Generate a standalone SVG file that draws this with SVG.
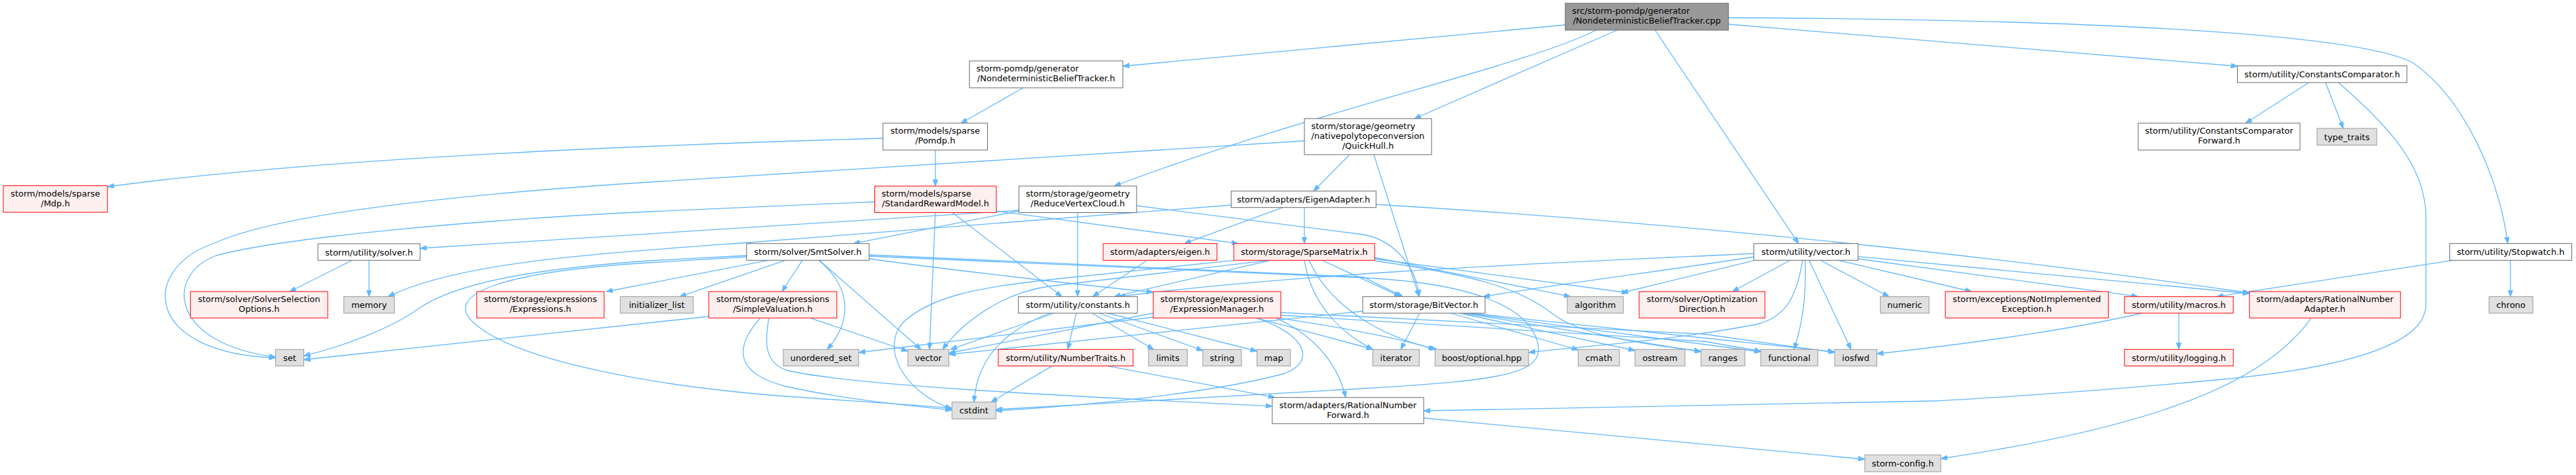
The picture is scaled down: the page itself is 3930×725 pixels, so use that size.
<svg xmlns="http://www.w3.org/2000/svg" width="3930" height="725" viewBox="0 0 3930 725">
<style>
.w{fill:#fff;stroke:#666;stroke-width:1}
.g{fill:#e0e0e0;stroke:#999;stroke-width:1}
.r{fill:#fff0f0;stroke:#f00;stroke-width:1}
.t{fill:#999;stroke:#666;stroke-width:1}
text{font-family:"DejaVu Sans","Liberation Sans",sans-serif;font-size:13px;fill:#000}
.m{text-anchor:middle}
#edges path{fill:none;stroke:#63b8ff;stroke-width:1.3;marker-end:url(#a)}
</style>
<defs>
<marker id="a" viewBox="0 0 10 7.5" refX="10" refY="3.75" markerWidth="10" markerHeight="7.5" markerUnits="userSpaceOnUse" orient="auto"><path d="M0,0L10,3.75L0,7.5z" fill="#63b8ff" stroke="#63b8ff" stroke-width="1"/></marker>
</defs>
<rect width="3930" height="725" fill="#fff"/>
<g id="edges">
<path d="M2388,38L1713,101"/>
<path d="M2435,46C2330,100 2000,170 1700,284"/>
<path d="M2467,46L2158,181"/>
<path d="M2525,46L2744,371.7"/>
<path d="M2637,37L3413.5,101"/>
<path d="M2637,27C3250,30 3600,55 3680,95C3760,150 3812,270 3826,371.7"/>
<path d="M1561,134L1466,188"/>
<path d="M1347,211C1000,221 500,240 164,285"/>
<path d="M1427,229L1427,284"/>
<path d="M2059,236L2004,291.7"/>
<path d="M2096,236L2165,452.7"/>
<path d="M1990,215L990,278C650,300 420,330 330,370C210,410 220,540 420.5,546"/>
<path d="M1334.5,308L990,323C700,337 420,365 330,390C250,420 260,525 420.5,545"/>
<path d="M1520,322L1889,371.7"/>
<path d="M1427,324.5L1418,533.3"/>
<path d="M1453,324.5L1620,452.7"/>
<path d="M1554.5,322L1302,371.7"/>
<path d="M1554.5,321L641,379"/>
<path d="M1644,324.5L1644,452.7"/>
<path d="M1734,314L2080,358C2120,365 2160,400 2165,452.7"/>
<path d="M1957,316.7L1807,371.7"/>
<path d="M1990,316.7L1990,371.7"/>
<path d="M1878.3,313L1144,370C900,388 700,400 592,452.7"/>
<path d="M2099.3,312C2400,330 2900,370 3431.8,447"/>
<path d="M1750,397.3L1667,452.7"/>
<path d="M1938,397.3L1700,452.7"/>
<path d="M1936,397.3L1600,437C1530,447 1470,490 1438,533.3"/>
<path d="M1882.3,397.3L1600,427C1480,440 1420,455 1380,490C1340,530 1380,600 1452.3,624"/>
<path d="M2017,397.3L2137,452.7"/>
<path d="M1990,397.3C2000,460 2040,505 2094.3,533.3"/>
<path d="M1997,397.3C2030,470 2110,515 2192,533.3"/>
<path d="M2097.3,393L2396,452.7"/>
<path d="M2097.3,395L2484,447"/>
<path d="M2097.3,398C2250,420 2320,440 2370,480C2410,510 2500,525 2595,536"/>
<path d="M1139,390L990,398C820,410 700,430 640,470C600,500 520,530 463.4,543"/>
<path d="M1139,392L990,401C760,415 680,450 720,490C780,550 1000,590 1200,605C1300,612 1400,618 1452.3,623"/>
<path d="M1172,397.3L925,445"/>
<path d="M1198,397.3L1037,452.7"/>
<path d="M1224,397.3L1193,445"/>
<path d="M1249,397.3C1300,440 1300,490 1262,533.3"/>
<path d="M1250,397.3L1405,533.3"/>
<path d="M1326,389L2080,423L2140,452.7"/>
<path d="M1326,395C1450,412 1650,435 1759.3,446"/>
<path d="M1326,391L2080,424C2250,432 2330,470 2345,520C2360,570 2300,580 2080,593L1519.3,625"/>
<path d="M1081.3,483L463.4,549"/>
<path d="M1236,485.3L1385,536"/>
<path d="M1160,485.3C1120,530 1120,570 1200,590C1300,612 1400,620 1452.3,626"/>
<path d="M1173,485.3C1165,530 1170,555 1200,565C1300,590 1700,608 1941,620"/>
<path d="M1608,478L1450,533.3"/>
<path d="M1602,478C1530,505 1490,550 1486,613.7"/>
<path d="M1642,478L1629,533.3"/>
<path d="M1666,478L1760,533.3"/>
<path d="M1677,478L1835,535"/>
<path d="M1690,478L1917.7,536"/>
<path d="M1605,558.6L1512,613.7"/>
<path d="M1690,558.6L1945,606.7"/>
<path d="M1760,484L1310,538"/>
<path d="M1759.3,478L1447.7,539"/>
<path d="M2079,475L1447.7,541"/>
<path d="M1917,485.3C1990,510 2010,550 1960,570C1850,600 1650,620 1519.3,627"/>
<path d="M1947,485.3C2000,510 2040,550 2053,606.7"/>
<path d="M1917,485.3L2094.3,533"/>
<path d="M1954,477L2600,510L2799,538"/>
<path d="M1954,481L2600,521L2686.3,536"/>
<path d="M1950,485.3C2050,500 2130,515 2189.3,533.3"/>
<path d="M2166,478L2137,533.3"/>
<path d="M2213,478L2407.7,534"/>
<path d="M2227,478L2494.3,535"/>
<path d="M2233,478L2595,537"/>
<path d="M2238,478L2686.3,537"/>
<path d="M2243,478L2799,537"/>
<path d="M2675.7,387C2400,400 2000,415 1707,452.7"/>
<path d="M2675.7,392C2550,412 2400,430 2263,452.7"/>
<path d="M2677,397.3L2474,447"/>
<path d="M2731,397.3L2643,445"/>
<path d="M2750,397.3C2740,460 2720,485 2680,495C2550,520 2420,528 2332,538"/>
<path d="M2754,397.3C2756,460 2748,500 2737,533.3"/>
<path d="M2760,397.3L2824,533.3"/>
<path d="M2777,397.3L2882,452.7"/>
<path d="M2805,397.3L3008,445"/>
<path d="M2834.7,395L3262,452.7"/>
<path d="M2834.7,391.7L3431.8,448"/>
<path d="M3522,126.3L3426,188"/>
<path d="M3548,126.3L3575,196"/>
<path d="M3568,126.3C3640,190 3700,250 3701,330L3701,465C3701,520 3600,560 3380,580C3200,597 3000,610 2950,612L2172,627"/>
<path d="M3830,397.3L3830,452.7"/>
<path d="M3742,397.3L3382,452.7"/>
<path d="M3324,478L3324,533.3"/>
<path d="M3268,478C3150,505 3000,525 2863.3,540"/>
<path d="M3526,485.3C3460,580 3300,650 2961,700"/>
<path d="M2172,638L2845,701"/>
<path d="M537,397.3L442,445"/>
<path d="M563,397.3L563,452.7"/>
</g>
<g id="n_cpp"><rect class="t" x="2388" y="5" width="249" height="41"/><text x="2398.5" y="21">src/storm-pomdp/generator</text><text class="m" x="2512.5" y="36">/NondeterministicBeliefTracker.cpp</text></g>
<g id="n_tracker_h"><rect class="w" x="1479" y="93" width="234" height="41"/><text x="1489.5" y="109">storm-pomdp/generator</text><text class="m" x="1596" y="124">/NondeterministicBeliefTracker.h</text></g>
<g id="n_pomdp"><rect class="w" x="1347" y="188" width="159.5" height="41"/><text class="m" x="1426.75" y="204">storm/models/sparse</text><text class="m" x="1426.75" y="219">/Pomdp.h</text></g>
<g id="n_mdp"><rect class="r" x="5" y="283.5" width="159" height="40.5"/><text class="m" x="84.5" y="299.5">storm/models/sparse</text><text class="m" x="84.5" y="314.5">/Mdp.h</text></g>
<g id="n_srm"><rect class="r" x="1334.5" y="284" width="185.5" height="40.5"/><text x="1345" y="300">storm/models/sparse</text><text class="m" x="1427.25" y="315">/StandardRewardModel.h</text></g>
<g id="n_rvc"><rect class="w" x="1554.5" y="284" width="179.5" height="40.5"/><text class="m" x="1644.25" y="300">storm/storage/geometry</text><text class="m" x="1644.25" y="315">/ReduceVertexCloud.h</text></g>
<g id="n_quickhull"><rect class="w" x="1990" y="181" width="194" height="55"/><text x="2000.5" y="197">storm/storage/geometry</text><text class="m" x="2087" y="212">/nativepolytopeconversion</text><text class="m" x="2087" y="227">/QuickHull.h</text></g>
<g id="n_eigenadapter"><rect class="w" x="1878.3" y="291.7" width="221" height="25"/><text class="m" x="1988.8" y="309">storm/adapters/EigenAdapter.h</text></g>
<g id="n_cc"><rect class="w" x="3413.5" y="100.5" width="258.5" height="25.5"/><text class="m" x="3542.75" y="118">storm/utility/ConstantsComparator.h</text></g>
<g id="n_ccf"><rect class="w" x="3262" y="188" width="247" height="41"/><text class="m" x="3385.5" y="204">storm/utility/ConstantsComparator</text><text class="m" x="3385.5" y="219">Forward.h</text></g>
<g id="n_type_traits"><rect class="g" x="3535" y="196" width="91" height="25.5"/><text class="m" x="3580.5" y="213.5">type_traits</text></g>
<g id="n_solver"><rect class="w" x="485" y="372" width="156" height="25.3"/><text class="m" x="563" y="389.5">storm/utility/solver.h</text></g>
<g id="n_smtsolver"><rect class="w" x="1139" y="371.7" width="187" height="25.6"/><text class="m" x="1232.5" y="389.2">storm/solver/SmtSolver.h</text></g>
<g id="n_eigen"><rect class="r" x="1683" y="371.7" width="173.7" height="25.6"/><text class="m" x="1769.85" y="389.2">storm/adapters/eigen.h</text></g>
<g id="n_sparsematrix"><rect class="r" x="1882.3" y="371.7" width="215" height="25.6"/><text class="m" x="1989.8" y="389.2">storm/storage/SparseMatrix.h</text></g>
<g id="n_vector_h"><rect class="w" x="2675.7" y="371.7" width="159" height="25.6"/><text class="m" x="2755.2" y="389.2">storm/utility/vector.h</text></g>
<g id="n_stopwatch"><rect class="w" x="3737.3" y="371.7" width="186.3" height="25.6"/><text class="m" x="3830.45" y="389.2">storm/utility/Stopwatch.h</text></g>
<g id="n_sso"><rect class="r" x="290.4" y="445" width="209.6" height="40.3"/><text class="m" x="395.2" y="461">storm/solver/SolverSelection</text><text class="m" x="395.2" y="476">Options.h</text></g>
<g id="n_memory"><rect class="g" x="524.6" y="452.7" width="77" height="25.3"/><text class="m" x="563.1" y="470.2">memory</text></g>
<g id="n_expressions"><rect class="r" x="727.3" y="445" width="194.4" height="40.3"/><text class="m" x="824.5" y="461">storm/storage/expressions</text><text class="m" x="824.5" y="476">/Expressions.h</text></g>
<g id="n_initializer_list"><rect class="g" x="946.3" y="452.7" width="111.4" height="25.3"/><text class="m" x="1002" y="470.2">initializer_list</text></g>
<g id="n_simplevaluation"><rect class="r" x="1081.3" y="445" width="195.4" height="40.3"/><text class="m" x="1179" y="461">storm/storage/expressions</text><text class="m" x="1179" y="476">/SimpleValuation.h</text></g>
<g id="n_constants"><rect class="w" x="1553.7" y="452.7" width="181.6" height="25.3"/><text class="m" x="1644.5" y="470.2">storm/utility/constants.h</text></g>
<g id="n_expressionmanager"><rect class="r" x="1759.3" y="445" width="194.7" height="40.3"/><text class="m" x="1856.65" y="461">storm/storage/expressions</text><text class="m" x="1856.65" y="476">/ExpressionManager.h</text></g>
<g id="n_bitvector"><rect class="w" x="2079" y="452.7" width="186.7" height="25.3"/><text class="m" x="2172.35" y="470.2">storm/storage/BitVector.h</text></g>
<g id="n_algorithm"><rect class="g" x="2391" y="452.7" width="85.7" height="25.3"/><text class="m" x="2433.85" y="470.2">algorithm</text></g>
<g id="n_optdir"><rect class="r" x="2500.7" y="445" width="192" height="40.3"/><text class="m" x="2596.7" y="461">storm/solver/Optimization</text><text class="m" x="2596.7" y="476">Direction.h</text></g>
<g id="n_numeric"><rect class="g" x="2868.7" y="452.7" width="74.3" height="25.3"/><text class="m" x="2905.85" y="470.2">numeric</text></g>
<g id="n_notimpl"><rect class="r" x="2967.8" y="445" width="248.7" height="40.3"/><text class="m" x="3092.15" y="461">storm/exceptions/NotImplemented</text><text class="m" x="3092.15" y="476">Exception.h</text></g>
<g id="n_macros"><rect class="r" x="3241.1" y="452.7" width="166.1" height="25.3"/><text class="m" x="3324.15" y="470.2">storm/utility/macros.h</text></g>
<g id="n_rna"><rect class="r" x="3431.8" y="445" width="230.4" height="40.3"/><text class="m" x="3547" y="461">storm/adapters/RationalNumber</text><text class="m" x="3547" y="476">Adapter.h</text></g>
<g id="n_chrono"><rect class="g" x="3797.3" y="452.7" width="66.9" height="25.3"/><text class="m" x="3830.75" y="470.2">chrono</text></g>
<g id="n_set"><rect class="g" x="420.5" y="533.3" width="42.9" height="25.3"/><text class="m" x="441.95" y="550.8">set</text></g>
<g id="n_unordered_set"><rect class="g" x="1195" y="533.3" width="115" height="25.3"/><text class="m" x="1252.5" y="550.8">unordered_set</text></g>
<g id="n_vector"><rect class="g" x="1385" y="533.3" width="62.7" height="25.3"/><text class="m" x="1416.35" y="550.8">vector</text></g>
<g id="n_numbertraits"><rect class="r" x="1523" y="533.3" width="205.7" height="25.3"/><text class="m" x="1625.85" y="550.8">storm/utility/NumberTraits.h</text></g>
<g id="n_limits"><rect class="g" x="1752.3" y="533.3" width="59" height="25.3"/><text class="m" x="1781.8" y="550.8">limits</text></g>
<g id="n_string"><rect class="g" x="1835" y="533.3" width="59" height="25.3"/><text class="m" x="1864.5" y="550.8">string</text></g>
<g id="n_map"><rect class="g" x="1917.7" y="533.3" width="51" height="25.3"/><text class="m" x="1943.2" y="550.8">map</text></g>
<g id="n_iterator"><rect class="g" x="2094.3" y="533.3" width="71" height="25.3"/><text class="m" x="2129.8" y="550.8">iterator</text></g>
<g id="n_boost_optional"><rect class="g" x="2189.3" y="533.3" width="142.7" height="25.3"/><text class="m" x="2260.65" y="550.8">boost/optional.hpp</text></g>
<g id="n_cmath"><rect class="g" x="2407.7" y="533.3" width="63" height="25.3"/><text class="m" x="2439.2" y="550.8">cmath</text></g>
<g id="n_ostream"><rect class="g" x="2494.3" y="533.3" width="76.4" height="25.3"/><text class="m" x="2532.5" y="550.8">ostream</text></g>
<g id="n_ranges"><rect class="g" x="2595" y="533.3" width="67" height="25.3"/><text class="m" x="2628.5" y="550.8">ranges</text></g>
<g id="n_functional"><rect class="g" x="2686.3" y="533.3" width="87" height="25.3"/><text class="m" x="2729.8" y="550.8">functional</text></g>
<g id="n_iosfwd"><rect class="g" x="2799" y="533.3" width="64.3" height="25.3"/><text class="m" x="2831.15" y="550.8">iosfwd</text></g>
<g id="n_logging"><rect class="r" x="3241.1" y="533.3" width="166.1" height="25.3"/><text class="m" x="3324.15" y="550.8">storm/utility/logging.h</text></g>
<g id="n_cstdint"><rect class="g" x="1452.3" y="613.7" width="67" height="25.6"/><text class="m" x="1485.8" y="631.2">cstdint</text></g>
<g id="n_rnf"><rect class="w" x="1941" y="606.7" width="231" height="40"/><text class="m" x="2056.5" y="622.7">storm/adapters/RationalNumber</text><text class="m" x="2056.5" y="637.7">Forward.h</text></g>
<g id="n_config"><rect class="g" x="2845" y="694.3" width="116" height="25.7"/><text class="m" x="2903" y="711.8">storm-config.h</text></g>
</svg>
